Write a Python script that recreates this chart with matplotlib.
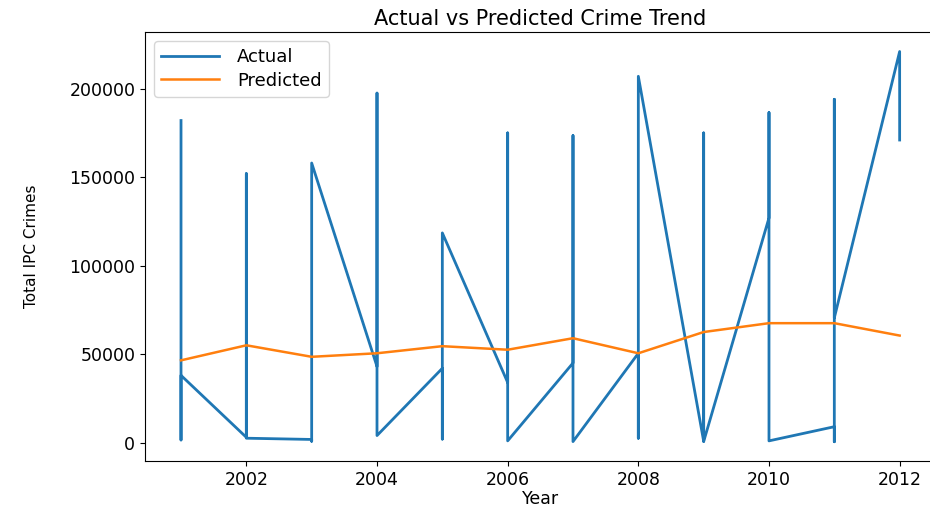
import matplotlib.pyplot as plt

# test rows in the order they come out, one year per row
test_years = [2001, 2001, 2001,
              2002, 2002, 2002,
              2003, 2003, 2003,
              2004, 2004, 2004,
              2005, 2005, 2005,
              2006, 2006, 2006,
              2007, 2007, 2007,
              2008, 2008, 2008,
              2009, 2009, 2009,
              2010, 2010, 2010,
              2011, 2011, 2011, 2011,
              2012, 2012]
actual = [182000, 1500, 38000,
          3000, 152000, 2500,
          1800, 800, 158000,
          43000, 197500, 4000,
          42000, 2000, 118500,
          34000, 175000, 1000,
          45000, 173500, 600,
          50500, 2500, 207000,
          800, 175000, 600,
          127000, 186500, 1000,
          9000, 500, 194000, 70500,
          221000, 171000]

# model output per year
pred_years = [2001, 2002, 2003, 2004, 2005, 2006, 2007, 2008, 2009, 2010, 2011, 2012]
predicted = [46500, 55000, 48500, 50500, 54500, 52500, 59000, 50500, 62500, 67500, 67500, 60500]

fig = plt.figure(figsize=(9.3, 5.08), dpi=100)
ax = fig.add_axes([0.156, 0.092, 0.85, 0.845])

ax.plot(test_years, actual, label="Actual", color="#1f77b4", lw=2)
ax.plot(pred_years, predicted, label="Predicted", color="#ff7f0e", lw=1.8)

ax.set_xticks([2002, 2004, 2006, 2008, 2010, 2012])
ax.tick_params(labelsize=12.5)
ax.set_title("Actual vs Predicted Crime Trend", fontsize=15, pad=5)
ax.set_xlabel("Year", fontsize=12.5, labelpad=1)
ax.set_ylabel("Total IPC Crimes", fontsize=11, labelpad=22)
ax.legend(loc="upper left", fontsize=13, handlelength=3.2, handletextpad=1.0,
          labelspacing=0.3, borderaxespad=0.5)

plt.savefig("out.png")
